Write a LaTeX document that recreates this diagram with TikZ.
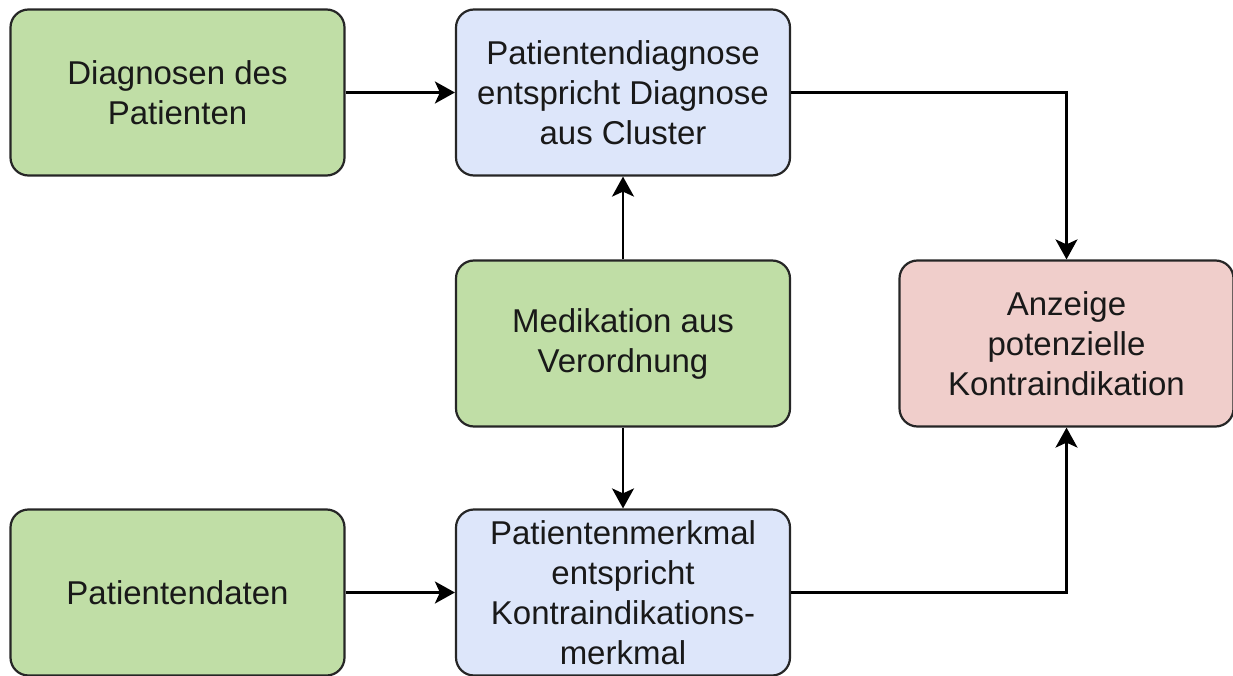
\documentclass[tikz,border=0pt]{standalone}
\usepackage{fontspec}
\setmainfont{Liberation Sans}
\usetikzlibrary{arrows.meta}
\definecolor{boxgreen}{RGB}{192,222,166}
\definecolor{boxblue}{RGB}{221,230,250}
\definecolor{boxred}{RGB}{240,206,203}
\begin{document}
\begin{tikzpicture}[x=1pt,y=-1pt,
  box/.style={draw=black!85, line width=2.2pt, rounded corners=18pt,
    minimum width=334pt, minimum height=166pt, inner sep=0pt,
    align=center, font=\fontsize{33}{40}\selectfont, text=black!90},
  gbox/.style={box, fill=boxgreen},
  bbox/.style={box, fill=boxblue},
  rbox/.style={box, fill=boxred},
  conn/.style={line width=2.4pt, -{Stealth[length=20pt,width=22pt,inset=5pt]}}]
\useasboundingbox (0,0) rectangle (1233,676);
\node[gbox] (dia) at (177.5,92.5) {Diagnosen des\\Patienten};
\node[bbox] (c1) at (623,92.5) {Patientendiagnose\\entspricht Diagnose\\aus Cluster};
\node[gbox] (med) at (623,343.5) {Medikation aus\\Verordnung};
\node[rbox] (anz) at (1066.5,343.5) {Anzeige\\potenzielle\\Kontraindikation};
\node[gbox] (pd) at (177.5,592.5) {Patientendaten};
\node[bbox] (c2) at (623,592.5) {Patientenmerkmal\\entspricht\\Kontraindikations-\\merkmal};
\draw[conn] (dia.east) -- (c1.west);
\draw[conn] (pd.east) -- (c2.west);
\draw[conn] (med.north) -- (c1.south);
\draw[conn] (med.south) -- (c2.north);
\draw[conn] (c1.east) -| (anz.north);
\draw[conn] (c2.east) -| (anz.south);
\end{tikzpicture}
\end{document}
